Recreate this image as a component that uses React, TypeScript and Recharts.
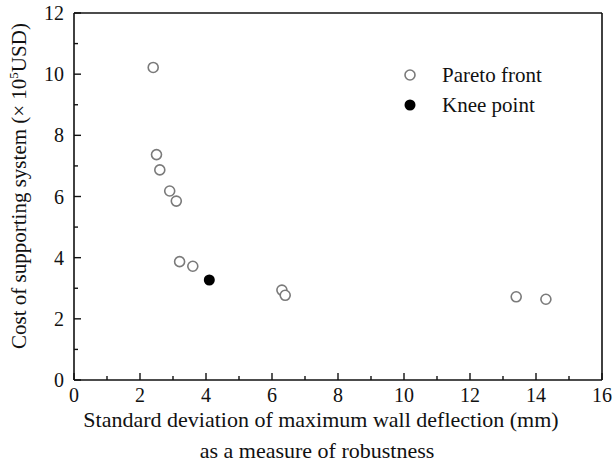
import React from 'react';
import {
  ScatterChart,
  Scatter,
  XAxis,
  YAxis,
  ReferenceLine,
  Legend,
  Label,
} from 'recharts';

// values
const paretoX = [2.4, 2.5, 2.6, 2.9, 3.1, 3.2, 3.6, 6.3, 6.4, 13.4, 14.3];
const paretoY = [10.22, 7.37, 6.87, 6.18, 5.85, 3.87, 3.72, 2.94, 2.77, 2.72, 2.64];
const kneeX = [4.1];
const kneeY = [3.27];

const xTicks = [0, 1, 2, 3, 4, 5, 6, 7, 8, 9, 10, 11, 12, 13, 14, 15, 16];
const yTicks = [0, 1, 2, 3, 4, 5, 6, 7, 8, 9, 10, 11, 12];
const seriesNames = ['Pareto front', 'Knee point'];

const pareto = paretoX.map((x, i) => ({ x, y: paretoY[i] }));
const knee = kneeX.map((x, i) => ({ x, y: kneeY[i] }));

const FONT = '"Liberation Serif", "Times New Roman", serif';
const INK = '#111';

const XTick = (props: any) => {
  const { x, y, payload } = props;
  const major = payload.value % 2 === 0;
  return (
    <g>
      <line x1={x} x2={x} y1={y} y2={y - (major ? 7 : 4)} stroke={INK} strokeWidth={1.4} />
      {major && (
        <text x={x} y={y + 22} textAnchor="middle" fontSize={20} fontFamily={FONT} fill={INK}>
          {payload.value}
        </text>
      )}
    </g>
  );
};

const YTick = (props: any) => {
  const { x, y, payload } = props;
  const major = payload.value % 2 === 0;
  return (
    <g>
      <line x1={x} x2={x + (major ? 7 : 4)} y1={y} y2={y} stroke={INK} strokeWidth={1.4} />
      {major && (
        <text x={x - 10} y={y + 7} textAnchor="end" fontSize={20} fontFamily={FONT} fill={INK}>
          {payload.value}
        </text>
      )}
    </g>
  );
};

const OpenDot = (p: any) => (
  <circle cx={p.cx} cy={p.cy} r={5} fill="#fff" stroke="#7a7a7a" strokeWidth={1.6} />
);
const FilledDot = (p: any) => <circle cx={p.cx} cy={p.cy} r={5.5} fill="#000" />;

const LegendBox = (props: any) => {
  const items = [...(props.payload || [])].sort(
    (a: any, b: any) => seriesNames.indexOf(a.value) - seriesNames.indexOf(b.value)
  );
  return (
    <svg width={170} height={60}>
      {items.map((it: any, i: number) => (
        <g key={it.value}>
          {it.value === seriesNames[0] ? (
            <circle cx={15} cy={15 + i * 30} r={5} fill="#fff" stroke="#7a7a7a" strokeWidth={1.6} />
          ) : (
            <circle cx={15} cy={15 + i * 30} r={5.5} fill="#000" />
          )}
          <text x={47} y={22 + i * 30} fontSize={21} fontFamily={FONT} fill={INK}>
            {it.value}
          </text>
        </g>
      ))}
    </svg>
  );
};

export default function App() {
  return (
    <div style={{ position: 'absolute', left: 0, top: 0, background: '#fff' }}>
      <ScatterChart width={614} height={463} margin={{ top: 13, right: 12, left: 0, bottom: 0 }}>
        <XAxis
          type="number"
          dataKey="x"
          domain={[0, 16]}
          ticks={xTicks}
          interval={0}
          tick={<XTick />}
          tickLine={false}
          tickSize={0}
          tickMargin={0}
          height={83}
          axisLine={{ stroke: INK, strokeWidth: 1.6 }}
        >
          <Label
            content={() => (
              <g>
                <text x={321} y={427} textAnchor="middle" fontSize={22} fontFamily={FONT} fill={INK}>
                  Standard deviation of maximum wall deflection (mm)
                </text>
                <text x={317} y={458} textAnchor="middle" fontSize={22} fontFamily={FONT} fill={INK}>
                  as a measure of robustness
                </text>
              </g>
            )}
          />
        </XAxis>
        <YAxis
          type="number"
          dataKey="y"
          domain={[0, 12]}
          ticks={yTicks}
          interval={0}
          tick={<YTick />}
          tickLine={false}
          tickSize={0}
          tickMargin={0}
          width={74}
          axisLine={{ stroke: INK, strokeWidth: 1.6 }}
        >
          <Label
            content={() => (
              <text
                x={0}
                y={0}
                transform="translate(26, 186) rotate(-90)"
                textAnchor="middle"
                fontSize={21}
                fontFamily={FONT}
                fill={INK}
              >
                Cost of supporting system (× 10
                <tspan dy={-8} fontSize={13}>5</tspan>
                <tspan dy={8}>USD)</tspan>
              </text>
            )}
          />
        </YAxis>
        <ReferenceLine y={12} stroke={INK} strokeWidth={1.6} />
        <ReferenceLine x={16} stroke={INK} strokeWidth={1.6} />
        <Legend
          layout="vertical"
          align="center"
          verticalAlign="middle"
          wrapperStyle={{ position: 'absolute', left: 395, top: 60, width: 170, height: 60 }}
          content={<LegendBox />}
        />
        <Scatter name="Pareto front" data={pareto} shape={OpenDot} isAnimationActive={false} fill="#fff" />
        <Scatter name="Knee point" data={knee} shape={FilledDot} isAnimationActive={false} fill="#000" />
      </ScatterChart>
    </div>
  );
}
